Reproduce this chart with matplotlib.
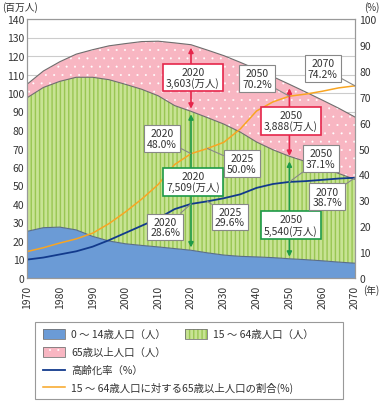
import matplotlib
matplotlib.use("Agg")
import matplotlib.pyplot as plt
from matplotlib.patches import Rectangle
from matplotlib.lines import Line2D

plt.rcParams['font.family'] = ['Noto Sans CJK JP', 'DejaVu Sans']
plt.rcParams['hatch.linewidth'] = 1.0

years = [1970, 1975, 1980, 1985, 1990, 1995, 2000, 2005, 2010, 2015, 2020,
         2025, 2030, 2035, 2040, 2045, 2050, 2055, 2060, 2065, 2070]
pop_0_14 = [25.2, 27.2, 27.5, 26.0, 22.5, 20.0, 18.5, 17.6, 16.8, 15.9, 15.0,
            13.6, 12.4, 11.7, 11.4, 11.0, 10.4, 9.9, 9.3, 8.6, 8.0]
pop_15_64 = [72.2, 75.8, 78.8, 82.5, 86.0, 87.2, 86.2, 84.4, 81.7, 77.3, 75.1,
             73.1, 70.8, 67.2, 62.1, 58.3, 55.4, 53.0, 50.5, 47.9, 45.3]
pop_65 = [7.3, 8.9, 10.6, 12.5, 14.9, 18.3, 22.0, 25.8, 29.5, 33.9, 36.0,
          36.5, 37.0, 37.7, 39.3, 39.5, 38.9, 37.6, 36.4, 35.3, 33.7]
aging_rate = [7.1, 7.9, 9.1, 10.3, 12.1, 14.6, 17.4, 20.2, 23.0, 26.6, 28.6,
              29.6, 30.8, 32.3, 34.8, 36.3, 37.1, 37.4, 37.9, 38.4, 38.7]
old_ratio = [10.2, 11.7, 13.5, 15.1, 17.3, 21.0, 25.5, 30.5, 36.1, 43.8, 48.0,
             50.0, 52.4, 57.5, 64.5, 68.0, 70.2, 71.0, 72.1, 73.4, 74.2]

legend_labels = ['0 ～ 14歳人口（人）', '15 ～ 64歳人口（人）', '65歳以上人口（人）',
                 '高齢化率（%）', '15 ～ 64歳人口に対する65歳以上人口の割合(%)']

c_blue = '#6b9bd6'
c_green = '#c8e394'
c_green_h = '#99c653'
c_pink = '#f8b6c2'
c_navy = '#123a8c'
c_orange = '#f8a523'
c_red = '#e5264b'
c_dgreen = '#1e9a48'

lvl1 = pop_0_14
lvl2 = [a + b for a, b in zip(pop_0_14, pop_15_64)]
lvl3 = [a + b + c for a, b, c in zip(pop_0_14, pop_15_64, pop_65)]

fig = plt.figure(figsize=(3.81, 4.02), dpi=100)
ax = fig.add_axes([27 / 381, 1 - 279 / 402, 328 / 381, 259 / 402])
ax2 = ax.twinx()

ax.fill_between(years, 0, lvl1, facecolor=c_blue, edgecolor='none', lw=0)
ax.fill_between(years, lvl1, lvl2, facecolor=c_green, edgecolor=c_green_h, hatch='||||', lw=0)
with plt.rc_context({'hatch.linewidth': 0.2}):
    ax.fill_between(years, lvl2, lvl3, facecolor=c_pink, edgecolor='white', hatch='..', lw=0)
ax.plot(years, lvl1, color='#5a6d88', lw=0.8)
ax.plot(years, lvl2, color='#6e6e6e', lw=0.8)
ax.plot(years, lvl3, color='#6e6e6e', lw=0.8)

ax.set_xlim(1970, 2070)
ax.set_ylim(0, 140)
ax.set_yticks(range(0, 141, 10))
ax.set_xticks(range(1970, 2071, 10))
ax.set_xticklabels([str(y) for y in range(1970, 2071, 10)], rotation=90)
ax.yaxis.grid(True, color='#cccccc', lw=0.8)
ax.set_axisbelow(True)
ax.tick_params(labelsize=7.5, length=0, colors='#333333', pad=2)
ax.tick_params(axis='x', pad=5)
for s in ax.spines.values():
    s.set_color('#999999')

ax2.set_ylim(0, 100)
ax2.set_yticks(range(0, 101, 10))
ax2.tick_params(labelsize=7.5, length=0, colors='#333333', pad=3)
for s in ax2.spines.values():
    s.set_color('#999999')

ax2.plot(years, aging_rate, color=c_navy, lw=1.3)
ax2.plot(years, old_ratio, color=c_orange, lw=1.1)

fig.text(2 / 381, 1 - 8 / 402, '(百万人)', fontsize=7, va='center', color='#333333')
fig.text(364 / 381, 1 - 8 / 402, '(%)', fontsize=7, va='center', color='#333333')
fig.text(363 / 381, 1 - 291 / 402, '(年)', fontsize=7, va='center', color='#333333')

# population arrows
def pop_arrow(x, y0, y1, col):
    ax2.annotate('', xy=(x, y0), xytext=(x, y1), xycoords=ax.transData, textcoords=ax.transData,
                 arrowprops=dict(arrowstyle='<|-|>', color=col, lw=1.2, mutation_scale=7,
                                 shrinkA=0, shrinkB=0))

pop_arrow(2020, 124.5, 91.5, c_red)
pop_arrow(2020, 88.5, 16.5, c_dgreen)
pop_arrow(2050, 102.5, 66.0, c_red)
pop_arrow(2050, 63.0, 11.5, c_dgreen)

def box(text, x, y, col, lw=1.2):
    ax2.text(x, y, text, transform=ax.transData, ha='center', va='center', fontsize=7.5,
             linespacing=1.05, color='#333333', zorder=6,
             bbox=dict(boxstyle='square,pad=0.3', fc='white', ec=col, lw=lw))

box('2020\n3,603(万人)', 2020.6, 108.4, c_red)
box('2020\n7,509(万人)', 2020.6, 52.0, c_dgreen)
box('2050\n3,888(万人)', 2050.5, 85.0, c_red)
box('2050\n5,540(万人)', 2050.5, 28.7, c_dgreen)

def callout(text, px, py, tx, ty):
    ax2.annotate(text, xy=(px, py), xytext=(tx, ty / 1.4), ha='center', va='center',
                 fontsize=7.5, linespacing=1.05, color='#333333', zorder=6,
                 bbox=dict(boxstyle='square,pad=0.3', fc='white', ec='#888888', lw=0.8),
                 arrowprops=dict(arrowstyle='-', color='#888888', lw=0.8, shrinkA=0, shrinkB=0))

callout('2020\n48.0%', 2020, 48.0, 2011.2, 75.3)
callout('2020\n28.6%', 2020, 28.6, 2012.1, 27.6)
callout('2025\n50.0%', 2025, 50.0, 2035.5, 61.8)
callout('2025\n29.6%', 2025, 29.6, 2031.9, 33.0)
callout('2050\n70.2%', 2050, 70.2, 2040.1, 107.9)
callout('2070\n74.2%', 2070, 74.2, 2060.2, 113.3)
callout('2050\n37.1%', 2050, 37.1, 2059.6, 64.5)
callout('2070\n38.7%', 2070, 38.7, 2061.5, 43.9)

# legend
fig.patches.append(Rectangle((35 / 381, 1 - 400 / 402), 308 / 381, 77 / 402,
                             transform=fig.transFigure, fc='white', ec='#999999', lw=0.8))
rows = [335, 353, 371, 388]

def leg_patch(px, py, fc, ec, hatch):
    fig.patches.append(Rectangle((px / 381, 1 - (py + 5) / 402), 22 / 381, 10 / 402,
                                 transform=fig.transFigure, fc=fc, ec=ec, hatch=hatch, lw=0))
    fig.patches.append(Rectangle((px / 381, 1 - (py + 5) / 402), 22 / 381, 10 / 402,
                                 transform=fig.transFigure, fc='none', ec='#777777', lw=0.6))

leg_patch(43, rows[0], c_blue, 'none', None)
leg_patch(185, rows[0], c_green, c_green_h, '||||')
with plt.rc_context({'hatch.linewidth': 0.2}):
    leg_patch(43, rows[1], c_pink, 'white', '..')
fig.lines.append(Line2D([43 / 381, 65 / 381], [1 - rows[2] / 402] * 2, transform=fig.transFigure,
                        color=c_navy, lw=1.3))
fig.lines.append(Line2D([43 / 381, 65 / 381], [1 - rows[3] / 402] * 2, transform=fig.transFigure,
                        color=c_orange, lw=1.1))
text_pos = [(71, rows[0]), (213, rows[0]), (71, rows[1]), (71, rows[2]), (71, rows[3])]
for (tx, ty), lab in zip(text_pos, legend_labels):
    fig.text(tx / 381, 1 - ty / 402, lab, fontsize=7.5, va='center', color='#333333')

fig.savefig('out.png', dpi=100)
